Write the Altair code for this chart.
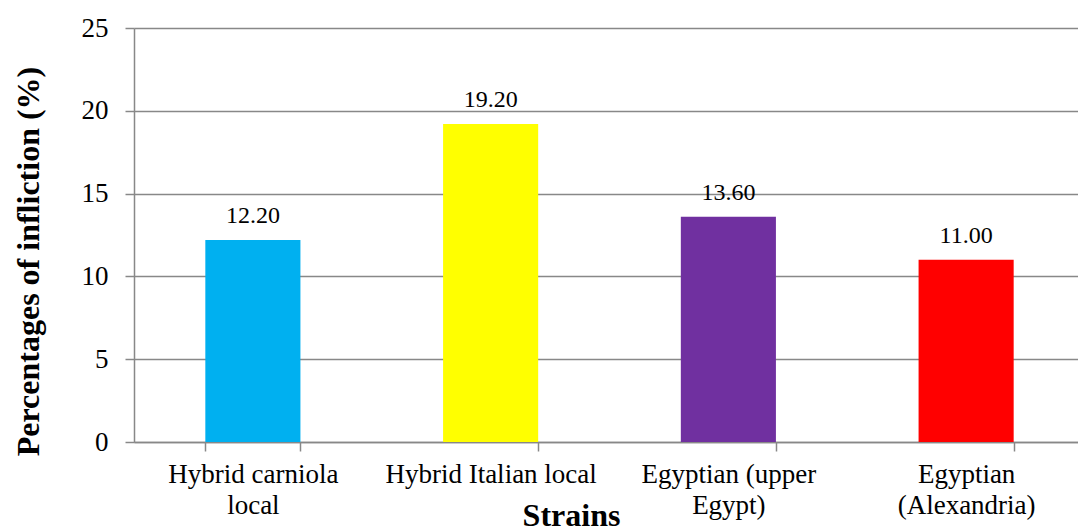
import altair as alt
import pandas as pd

strains = ["Hybrid carniola\nlocal", "Hybrid Italian local", "Egyptian (upper\nEgypt)", "Egyptian\n(Alexandria)"]
values = [12.20, 19.20, 13.60, 11.00]
colors = ["#00B0F0", "#FFFF00", "#7030A0", "#FF0000"]
y_ticks = [0, 5, 10, 15, 20, 25]

df = pd.DataFrame({"strain": strains, "value": values})

FONT = "Liberation Serif"
GRID = "#888888"

x_enc = alt.X(
    "strain:N",
    sort=strains,
    scale=alt.Scale(paddingInner=0.6, paddingOuter=0.3),
    axis=alt.Axis(
        title="Strains",
        titleFont=FONT, titleFontSize=32, titleFontWeight="bold", titleColor="black",
        titleX=437, titleY=83, titleBaseline="alphabetic", titleAlign="center",
        labelFont=FONT, labelFontSize=27, labelColor="black", labelAngle=0,
        labelExpr="isValid(datum.value) ? split(datum.value, '\\n') : ''", labelLineHeight=31,
        labelPadding=10, labelLimit=400,
        tickBand="extent", tickSize=9, tickColor=GRID, tickWidth=1.5,
        domainColor=GRID, domainWidth=1.5, grid=False,
    ),
)

y_enc = alt.Y(
    "value:Q",
    scale=alt.Scale(domain=[0, 25], nice=False),
    axis=alt.Axis(
        values=y_ticks,
        title="Percentages of infliction (%)",
        titleFont=FONT, titleFontSize=32, titleFontWeight="bold", titleColor="black",
        titleAngle=-90, titleX=-106, titleY=233, titleAlign="center", titleBaseline="middle",
        labelFont=FONT, labelFontSize=27, labelColor="black", labelPadding=17,
        tickSize=9, tickColor=GRID, tickWidth=1.5,
        domainColor=GRID, domainWidth=1.5,
        grid=True, gridColor=GRID, gridWidth=1.5,
    ),
)

bars = alt.Chart(df).mark_bar().encode(
    x=x_enc,
    y=y_enc,
    color=alt.Color("strain:N", sort=strains,
                    scale=alt.Scale(domain=strains, range=colors), legend=None),
)

text = alt.Chart(df).mark_text(
    font=FONT, fontSize=24, color="black", baseline="alphabetic", dy=-17
).encode(
    x=alt.X("strain:N", sort=strains),
    y=alt.Y("value:Q"),
    text=alt.Text("value:Q", format=".2f"),
)

chart = (bars + text).properties(
    width=951, height=414,
    autosize=alt.AutoSizeParams(type="none"),
    padding={"left": 134, "top": 28, "right": -7, "bottom": 88},
    background="white",
).configure_view(stroke=None)

chart.save("out.html", embed_options={"renderer": "svg", "actions": False})
